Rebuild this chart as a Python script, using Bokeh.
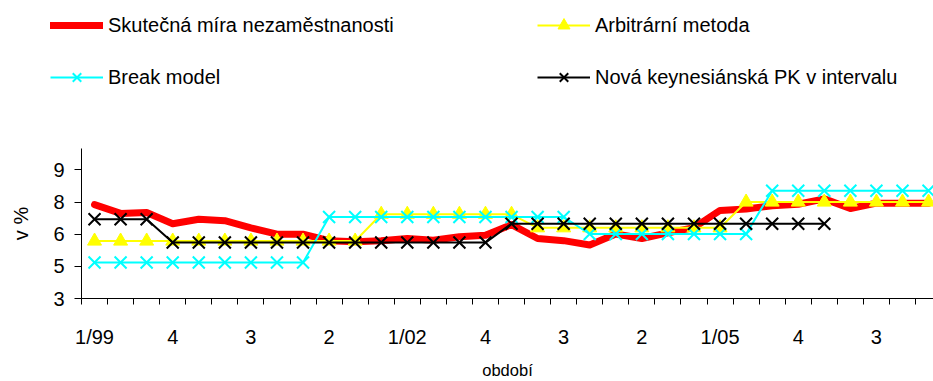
from bokeh.plotting import figure
from bokeh.layouts import column
from bokeh.models import FixedTicker, Legend, LegendItem, Range1d
from bokeh.embed import file_html
from bokeh.resources import INLINE

# Quarterly data 1/1999 .. 1/2007 (33 quarters), values in %
actual = [7.38, 6.97, 7.01, 6.49, 6.70, 6.63, 6.30, 6.00, 6.00, 5.70, 5.65,
          5.70, 5.80, 5.72, 5.88, 5.95, 6.45, 5.80, 5.70, 5.50, 6.01, 5.80,
          6.06, 6.31, 7.11, 7.18, 7.33, 7.40, 7.65, 7.20, 7.45, 7.45, 7.45]
arbitrary = [5.68, 5.68, 5.68, 5.68, 5.68, 5.68, 5.68, 5.68, 5.68, 5.68, 5.68,
             6.93, 6.93, 6.93, 6.93, 6.93, 6.93, 6.30, 6.30, 6.30, 6.30, 6.30,
             6.30, 6.30, 6.30, 7.50, 7.50, 7.50, 7.50, 7.50, 7.50, 7.50, 7.50]
break_model = [4.68, 4.68, 4.68, 4.68, 4.68, 4.68, 4.68, 4.68, 4.68, 6.80, 6.80,
               6.80, 6.80, 6.80, 6.80, 6.80, 6.80, 6.80, 6.80, 6.01, 6.01, 6.01,
               6.01, 6.01, 6.01, 6.01, 8.03, 8.03, 8.03, 8.03, 8.03, 8.03, 8.03]
nan = float("nan")
nk_pc = [6.70, 6.70, 6.70, 5.61, 5.61, 5.61, 5.61, 5.61, 5.61, 5.61, 5.61,
         5.61, 5.61, 5.61, 5.61, 5.61, 6.49, 6.49, 6.49, 6.49, 6.49, 6.49,
         6.49, 6.49, 6.49, 6.49, 6.49, 6.49, 6.49, nan, nan, nan, nan]

series_names = ["Skutečná míra nezaměstnanosti", "Arbitrární metoda",
                "Break model", "Nová keynesiánská PK v intervalu"]
x_tick_labels = ["1/99", "4", "3", "2", "1/02", "4", "3", "2", "1/05", "4", "3"]
label_every = 3
y_ticks = [3, 4.5, 6, 7.5, 9]
y_tick_labels = ["3", "5", "6", "8", "9"]

n = len(actual)
xs = list(range(n))
FONT = "Liberation Sans"
RED, YEL, CYA, BLK = "#FF0000", "#FFFF00", "#00FFFF", "#000000"


def draw_series(fig, x, act, arb, brk, nk):
    r1 = [fig.line(x, act, line_color=RED, line_width=7,
                   line_join="round", line_cap="round")]
    r2 = [fig.line(x, arb, line_color=YEL, line_width=2),
          fig.scatter(x, arb, marker="triangle", size=14,
                      fill_color=YEL, line_color=YEL)]
    r3 = [fig.line(x, brk, line_color=CYA, line_width=2),
          fig.scatter(x, brk, marker="x", size=17, line_color=CYA, line_width=2)]
    r4 = [fig.line(x, nk, line_color=BLK, line_width=2),
          fig.scatter(x, nk, marker="x", size=17, line_color=BLK, line_width=2)]
    return [r1, r2, r3, r4]


# ---------- legend strip (top) ----------
top = figure(width=933, height=148, output_backend="svg", toolbar_location=None,
             x_axis_type=None, y_axis_type=None,
             x_range=Range1d(0, 1), y_range=Range1d(0, 1),
             min_border_left=0, min_border_right=0, min_border_top=0,
             min_border_bottom=0)
top.frame_align = False
top.outline_line_color = None
top.xgrid.visible = False
top.ygrid.visible = False
# legend-only renderers: one undefined (NaN) point each, so nothing is drawn in the frame
leg_rends = draw_series(top, [nan], [nan], [nan], [nan], [nan])
order = [0, 2, 1, 3]  # grid fills column by column
lg = Legend(items=[LegendItem(label=series_names[k], renderers=leg_rends[k])
                   for k in order],
            ncols=2, location=(50, 56),
            padding=0, margin=0, spacing=22, border_line_alpha=0,
            background_fill_alpha=0, glyph_width=53, glyph_height=30,
            label_standoff=5, label_height=30, label_width=407,
            label_text_font=FONT, label_text_font_size="20px",
            label_text_color="black")
top.add_layout(lg, "center")

# ---------- main chart ----------
p = figure(width=933, height=233, output_backend="svg", toolbar_location=None,
           x_range=Range1d(-0.5, 32.19), y_range=Range1d(3, 10),
           min_border_left=81, min_border_right=0, min_border_top=0,
           min_border_bottom=75)
p.frame_align = False
p.outline_line_color = None
p.xgrid.visible = False
p.ygrid.visible = False
p.background_fill_color = "white"

draw_series(p, xs, actual, arbitrary, break_model, nk_pc)

# X axis
label_idx = list(range(0, n, label_every))[:len(x_tick_labels)]
xa = p.xaxis[0]
xa.ticker = FixedTicker(ticks=label_idx,
                        minor_ticks=[i - 0.5 for i in range(n + 1)])
xa.major_label_overrides = {i: lab for i, lab in zip(label_idx, x_tick_labels)}
xa.major_tick_out = 0
xa.major_tick_in = 0
xa.minor_tick_out = 6
xa.minor_tick_in = 0
xa.minor_tick_line_color = "black"
xa.axis_line_color = "black"
xa.major_label_text_font = FONT
xa.major_label_text_font_size = "20px"
xa.major_label_text_color = "black"
xa.major_label_standoff = 21
xa.axis_label = "období"
xa.axis_label_text_font = FONT
xa.axis_label_text_font_size = "16.5px"
xa.axis_label_text_font_style = "normal"
xa.axis_label_text_color = "black"
xa.axis_label_standoff = 10

# Y axis
ya = p.yaxis[0]
ya.ticker = FixedTicker(ticks=y_ticks)
ya.major_label_overrides = {t: l for t, l in zip(y_ticks, y_tick_labels)}
ya.major_tick_out = 7
ya.major_tick_in = 0
ya.minor_tick_line_alpha = 0
ya.axis_line_color = "black"
ya.major_tick_line_color = "black"
ya.major_label_text_font = FONT
ya.major_label_text_font_size = "20px"
ya.major_label_text_color = "black"
ya.major_label_standoff = 10
ya.axis_label = "v %"
ya.axis_label_text_font = FONT
ya.axis_label_text_font_size = "20px"
ya.axis_label_text_font_style = "normal"
ya.axis_label_text_color = "black"
ya.axis_label_standoff = 18

layout = column(top, p, spacing=0)
open("out.html", "w").write(file_html(layout, INLINE))
